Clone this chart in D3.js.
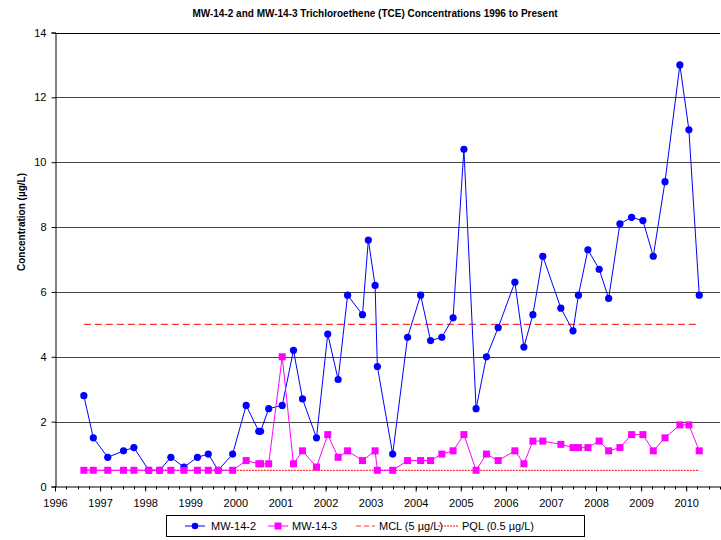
<!DOCTYPE html>
<html><head><meta charset="utf-8">
<script src="https://cdn.jsdelivr.net/npm/d3@7"></script>
<style>body{margin:0;background:#fff}svg{display:block}</style>
</head><body>
<svg id="c" width="721" height="540"></svg>
<script>
const titleText = "MW-14-2 and MW-14-3 Trichloroethene (TCE) Concentrations 1996 to Present";
const yTitle = "Concentration (µg/L)";
const xTickYears = [1996,1997,1998,1999,2000,2001,2002,2003,2004,2005,2006,2007,2008,2009,2010];
const yTicks = [0,2,4,6,8,10,12,14];

const dates142 = [1996.64,1996.85,1997.17,1997.52,1997.75,1998.08,1998.32,1998.57,1998.86,1999.16,1999.40,1999.62,1999.94,2000.24,2000.52,2000.56,2000.74,2001.04,2001.29,2001.49,2001.80,2002.05,2002.28,2002.49,2002.82,2002.95,2003.10,2003.15,2003.49,2003.82,2004.11,2004.33,2004.58,2004.83,2005.07,2005.34,2005.57,2005.83,2006.20,2006.40,2006.60,2006.82,2007.22,2007.49,2007.61,2007.82,2008.07,2008.28,2008.53,2008.79,2009.04,2009.27,2009.53,2009.86,2010.06,2010.29];
const values142 = [2.8,1.5,0.9,1.1,1.2,0.5,0.5,0.9,0.6,0.9,1.0,0.5,1.0,2.5,1.7,1.7,2.4,2.5,4.2,2.7,1.5,4.7,3.3,5.9,5.3,7.6,6.2,3.7,1.0,4.6,5.9,4.5,4.6,5.2,10.4,2.4,4.0,4.9,6.3,4.3,5.3,7.1,5.5,4.8,5.9,7.3,6.7,5.8,8.1,8.3,8.2,7.1,9.4,13.0,11.0,5.9];

const dates143 = [1996.64,1996.85,1997.17,1997.52,1997.75,1998.08,1998.32,1998.57,1998.86,1999.16,1999.40,1999.62,1999.94,2000.24,2000.52,2000.56,2000.74,2001.04,2001.29,2001.49,2001.80,2002.05,2002.28,2002.49,2002.82,2003.10,2003.15,2003.49,2003.82,2004.11,2004.33,2004.58,2004.83,2005.07,2005.34,2005.57,2005.83,2006.20,2006.40,2006.60,2006.82,2007.22,2007.49,2007.61,2007.82,2008.07,2008.28,2008.53,2008.79,2009.04,2009.27,2009.53,2009.86,2010.06,2010.29];
const values143 = [0.5,0.5,0.5,0.5,0.5,0.5,0.5,0.5,0.5,0.5,0.5,0.5,0.5,0.8,0.7,0.7,0.7,4.0,0.7,1.1,0.6,1.6,0.9,1.1,0.8,1.1,0.5,0.5,0.8,0.8,0.8,1.0,1.1,1.6,0.5,1.0,0.8,1.1,0.7,1.4,1.4,1.3,1.2,1.2,1.2,1.4,1.1,1.2,1.6,1.6,1.1,1.5,1.9,1.9,1.1];

const mclValue = 5, pqlValue = 0.5;
const limitSpan = [1996.64, 2010.29];
const legendLabels = ["MW-14-2","MW-14-3","MCL (5 µg/L)","PQL (0.5 µg/L)"];

const svg = d3.select("#c");
const L = 55, R = 720, T = 32.5, B = 486.5;
const x = d3.scaleLinear().domain([1996, 2010.75]).range([L, R]);
const y = d3.scaleLinear().domain([0, 14]).range([B, T]);
const font = "'Liberation Sans', Arial, sans-serif";

// title
svg.append("text").attr("x", 375).attr("y", 17).attr("text-anchor","middle")
  .attr("font-family","'Liberation Sans Narrow', 'Liberation Sans', sans-serif").attr("font-weight","bold")
  .attr("font-size","10px").text(titleText);

// gridlines
svg.append("g").selectAll("line").data(yTicks.filter(d=>d>0)).join("line")
  .attr("x1", L).attr("x2", R).attr("y1", d=>Math.round(y(d))+0.5).attr("y2", d=>Math.round(y(d))+0.5)
  .attr("stroke", d=> d===14 ? "#000" : "#444").attr("stroke-width",1);

// y axis
const yAxis = d3.axisLeft(y).tickValues(yTicks).tickSize(4).tickPadding(5).tickFormat(d3.format("d"));
const gy = svg.append("g").attr("transform",`translate(${L+0.5},0)`).call(yAxis);
gy.select(".domain").attr("stroke","#000");
gy.selectAll("text").attr("font-family",font).attr("font-size","11px").attr("fill","#000");

// x axis
const minorTicks = d3.range(1996, 2010.76, 0.25);
const gxm = svg.append("g").attr("transform",`translate(0,${B})`);
gxm.selectAll("line").data(minorTicks).join("line")
  .attr("x1", d=>Math.round(x(d))+0.5).attr("x2", d=>Math.round(x(d))+0.5)
  .attr("y1", 0).attr("y2", 3).attr("stroke","#000");
const xAxis = d3.axisBottom(x).tickValues(xTickYears).tickSize(5).tickPadding(8).tickFormat(d3.format("d"));
const gx = svg.append("g").attr("transform",`translate(0,${B})`).call(xAxis);
gx.select(".domain").attr("stroke","#000").attr("d", `M${L},0.5H${R}`);
gx.selectAll("text").attr("font-family",font).attr("font-size","11px").attr("fill","#000");

// y title
svg.append("text").attr("transform","translate(25,222) rotate(-90)").attr("text-anchor","middle")
  .attr("font-family",font).attr("font-weight","bold").attr("font-size","10px").text(yTitle);

// limit lines
svg.append("line").attr("x1", x(limitSpan[0])).attr("x2", x(limitSpan[1]))
  .attr("y1", y(mclValue)).attr("y2", y(mclValue)).attr("stroke","#ff3030").attr("stroke-width",1.2).attr("stroke-dasharray","7,4");
svg.append("line").attr("x1", x(limitSpan[0])).attr("x2", x(limitSpan[1]))
  .attr("y1", y(pqlValue)).attr("y2", y(pqlValue)).attr("stroke","#ff0000").attr("stroke-width",1).attr("stroke-dasharray","2,1");

// series
const s142 = dates142.map((d,i)=>({t:d, v:values142[i]}));
const s143 = dates143.map((d,i)=>({t:d, v:values143[i]}));
const line = d3.line().x(d=>x(d.t)).y(d=>y(d.v));

svg.append("path").datum(s142).attr("d", line).attr("fill","none").attr("stroke","#0000ff").attr("stroke-width",1);
svg.append("g").selectAll("circle").data(s142).join("circle")
  .attr("cx", d=>x(d.t)).attr("cy", d=>y(d.v)).attr("r",3.6).attr("fill","#0000ff");

svg.append("path").datum(s143).attr("d", line).attr("fill","none").attr("stroke","#ff00ff").attr("stroke-width",1);
svg.append("g").selectAll("rect").data(s143).join("rect")
  .attr("x", d=>x(d.t)-3.5).attr("y", d=>y(d.v)-3.5).attr("width",7).attr("height",7).attr("fill","#ff00ff");

// legend
const lg = svg.append("g");
lg.append("rect").attr("x",166.5).attr("y",515.5).attr("width",418).attr("height",21).attr("fill","#fff").attr("stroke","#000");
const ly = 526;
const items = [
  {x1:185,x2:205,tx:211,color:"#0000ff",mark:"circle",dash:null},
  {x1:268,x2:288,tx:292,color:"#ff00ff",mark:"rect",dash:null},
  {x1:356,x2:375,tx:379,color:"#ff3030",mark:null,dash:"5,3"},
  {x1:438,x2:458,tx:462,color:"#ff0000",mark:null,dash:"2,1"}
];
items.forEach((it,i)=>{
  lg.append("line").attr("x1",it.x1).attr("x2",it.x2).attr("y1",ly).attr("y2",ly)
    .attr("stroke",it.color).attr("stroke-width",1).attr("stroke-dasharray",it.dash);
  const cx=(it.x1+it.x2)/2;
  if(it.mark==="circle") lg.append("circle").attr("cx",cx).attr("cy",ly).attr("r",3.3).attr("fill",it.color);
  if(it.mark==="rect") lg.append("rect").attr("x",cx-3.5).attr("y",ly-3.5).attr("width",7).attr("height",7).attr("fill",it.color);
  lg.append("text").attr("x",it.tx).attr("y",ly+4).attr("font-family",font).attr("font-size","11px").text(legendLabels[i]);
});
</script>
</body></html>
